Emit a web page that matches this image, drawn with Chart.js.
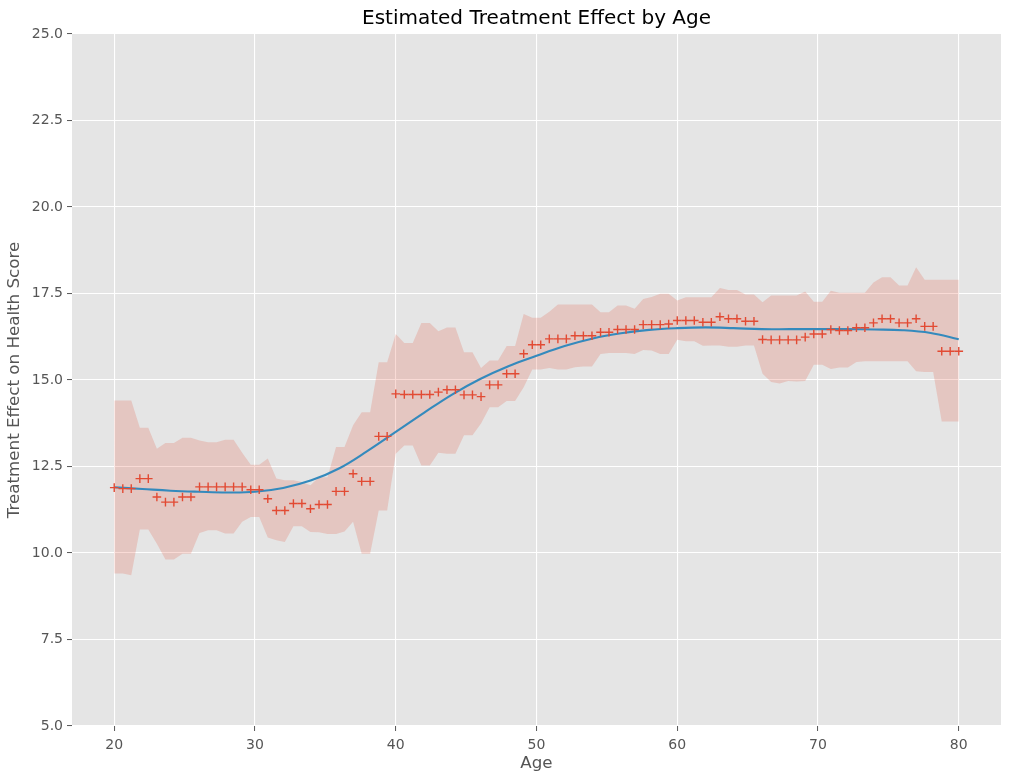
<!DOCTYPE html>
<html>
<head>
<meta charset="utf-8">
<script src="https://cdn.jsdelivr.net/npm/chart.js@4.4.1/dist/chart.umd.min.js"></script>
<style>
  html, body { margin: 0; padding: 0; background: #fff; }
  #wrap { width: 1011px; height: 780px; }
</style>
</head>
<body>
<div id="wrap"><canvas id="effectChart" width="1011" height="780"></canvas></div>
<script>
// Ages where the effect was evaluated
const ages = [
  20.00, 20.61, 21.21, 21.82, 22.42, 23.03, 23.64, 24.24, 24.85, 25.45,
  26.06, 26.67, 27.27, 27.88, 28.48, 29.09, 29.70, 30.30, 30.91, 31.52,
  32.12, 32.73, 33.33, 33.94, 34.55, 35.15, 35.76, 36.36, 36.97, 37.58,
  38.18, 38.79, 39.39, 40.00, 40.61, 41.21, 41.82, 42.42, 43.03, 43.64,
  44.24, 44.85, 45.45, 46.06, 46.67, 47.27, 47.88, 48.48, 49.09, 49.70,
  50.30, 50.91, 51.52, 52.12, 52.73, 53.33, 53.94, 54.55, 55.15, 55.76,
  56.36, 56.97, 57.58, 58.18, 58.79, 59.39, 60.00, 60.61, 61.21, 61.82,
  62.42, 63.03, 63.64, 64.24, 64.85, 65.45, 66.06, 66.67, 67.27, 67.88,
  68.48, 69.09, 69.70, 70.30, 70.91, 71.52, 72.12, 72.73, 73.33, 73.94,
  74.55, 75.15, 75.76, 76.36, 76.97, 77.58, 78.18, 78.79, 79.39, 80.00
];

// Point estimates (red crosses)
const effect = [
  11.89, 11.86, 11.86, 12.15, 12.15, 11.62, 11.47, 11.47, 11.62, 11.62,
  11.91, 11.91, 11.91, 11.91, 11.91, 11.91, 11.83, 11.83, 11.57, 11.23,
  11.23, 11.43, 11.43, 11.28, 11.40, 11.40, 11.78, 11.78, 12.29, 12.07,
  12.07, 13.37, 13.37, 14.60, 14.58, 14.58, 14.58, 14.58, 14.65, 14.72,
  14.72, 14.57, 14.57, 14.52, 14.86, 14.86, 15.18, 15.18, 15.76, 16.02,
  16.02, 16.19, 16.19, 16.19, 16.28, 16.28, 16.28, 16.38, 16.38, 16.46,
  16.46, 16.46, 16.60, 16.60, 16.60, 16.62, 16.72, 16.72, 16.72, 16.67,
  16.67, 16.83, 16.77, 16.77, 16.70, 16.70, 16.17, 16.16, 16.16, 16.16,
  16.16, 16.24, 16.33, 16.33, 16.46, 16.43, 16.43, 16.51, 16.51, 16.65,
  16.77, 16.77, 16.65, 16.65, 16.77, 16.55, 16.55, 15.83, 15.83, 15.83
];

// Confidence band
const upper = [
  14.41, 14.41, 14.41, 13.62, 13.62, 13.01, 13.18, 13.18, 13.33, 13.33,
  13.25, 13.20, 13.20, 13.27, 13.27, 12.90, 12.55, 12.55, 12.73, 12.15,
  12.10, 12.10, 12.05, 11.96, 12.19, 12.19, 13.06, 13.06, 13.69, 14.07,
  14.07, 15.51, 15.51, 16.33, 16.07, 16.07, 16.65, 16.65, 16.41, 16.52,
  16.52, 15.80, 15.80, 15.35, 15.56, 15.56, 15.98, 15.98, 16.91, 16.80,
  16.80, 16.97, 17.18, 17.18, 17.18, 17.18, 17.18, 16.96, 16.96, 17.15,
  17.15, 17.06, 17.34, 17.40, 17.49, 17.49, 17.30, 17.39, 17.39, 17.39,
  17.39, 17.66, 17.60, 17.60, 17.47, 17.47, 17.25, 17.44, 17.44, 17.44,
  17.44, 17.56, 17.26, 17.26, 17.58, 17.52, 17.52, 17.52, 17.52, 17.82,
  17.97, 17.97, 17.73, 17.73, 18.26, 17.90, 17.90, 17.90, 17.90, 17.90
];
const lower = [
   9.41,  9.41,  9.36, 10.68, 10.68, 10.27,  9.81,  9.81,  9.98,  9.98,
  10.58, 10.66, 10.66, 10.56, 10.56, 10.90, 11.04, 11.04, 10.45, 10.37,
  10.32, 10.77, 10.77, 10.61, 10.60, 10.55, 10.55, 10.62, 10.90,  9.98,
   9.98, 11.23, 11.23, 12.87, 13.11, 13.11, 12.53, 12.53, 12.90, 12.87,
  12.87, 13.40, 13.40, 13.74, 14.21, 14.21, 14.39, 14.39, 14.79, 15.30,
  15.30, 15.35, 15.30, 15.30, 15.37, 15.39, 15.39, 15.75, 15.78, 15.78,
  15.78, 15.75, 15.87, 15.85, 15.75, 15.75, 16.16, 16.12, 16.12, 15.99,
  16.00, 16.00, 15.96, 15.96, 16.00, 16.00, 15.18, 14.94, 14.90, 14.97,
  14.96, 14.97, 15.44, 15.44, 15.32, 15.36, 15.36, 15.52, 15.54, 15.54,
  15.54, 15.54, 15.54, 15.54, 15.25, 15.23, 15.23, 13.80, 13.80, 13.80
];

// Smoothed fit (blue line)
const fitAges = [20, 22, 24, 26, 28, 30, 32, 34, 36, 38, 40, 42, 44, 46, 48,
  50, 52, 54, 56, 58, 60, 62, 64, 66, 68, 70, 72, 74, 76, 78, 80];
const fitValues = [11.90, 11.85, 11.80, 11.77, 11.75, 11.77, 11.88, 12.10,
  12.45, 12.95, 13.50, 14.05, 14.58, 15.03, 15.40, 15.70, 15.98, 16.20, 16.35,
  16.45, 16.50, 16.52, 16.50, 16.47, 16.47, 16.47, 16.47, 16.46, 16.44, 16.36,
  16.18];

const xTicks = [20, 30, 40, 50, 60, 70, 80];
const yTicks = [5, 7.5, 10, 12.5, 15, 17.5, 20, 22.5, 25];

const toPoints = (xs, ys) => xs.map((x, i) => ({ x: x, y: ys[i] }));

// grey panel behind the plot, ggplot style
const panelBg = {
  id: 'panelBg',
  beforeDraw(chart) {
    const { ctx, chartArea: a } = chart;
    ctx.save();
    ctx.fillStyle = '#E5E5E5';
    ctx.fillRect(a.left, a.top, a.right - a.left, a.bottom - a.top);
    ctx.restore();
  }
};

const tickFont = { family: 'DejaVu Sans', size: 14 };
const labelFont = { family: 'DejaVu Sans', size: 16.7 };

new Chart(document.getElementById('effectChart').getContext('2d'), {
  type: 'scatter',
  data: {
    datasets: [
      {
        label: 'Estimate',
        data: toPoints(ages, effect),
        pointStyle: 'cross',
        pointRadius: 4.3,
        pointBorderWidth: 1.4,
        pointBorderColor: '#E24A33',
        pointBackgroundColor: '#E24A33',
        showLine: false
      },
      {
        label: 'Fit',
        data: toPoints(fitAges, fitValues),
        showLine: true,
        borderColor: '#348ABD',
        borderWidth: 2.1,
        pointRadius: 0,
        tension: 0.4,
        fill: false
      },
      {
        label: 'Upper',
        data: toPoints(ages, upper),
        showLine: true,
        borderWidth: 0,
        borderColor: 'rgba(0,0,0,0)',
        pointRadius: 0,
        backgroundColor: 'rgba(226, 74, 51, 0.2)',
        fill: '+1'
      },
      {
        label: 'Lower',
        data: toPoints(ages, lower),
        showLine: true,
        borderWidth: 0,
        borderColor: 'rgba(0,0,0,0)',
        pointRadius: 0,
        fill: false
      }
    ]
  },
  options: {
    responsive: false,
    animation: false,
    layout: { padding: { left: 0, right: 10, top: 0, bottom: 0 } },
    plugins: {
      legend: { display: false },
      tooltip: { enabled: false },
      title: {
        display: true,
        fullSize: false,
        text: 'Estimated Treatment Effect by Age',
        color: '#000',
        font: { family: 'DejaVu Sans', size: 20, weight: 'normal' },
        padding: { top: 7, bottom: 3 }
      }
    },
    scales: {
      x: {
        type: 'linear',
        min: 17,
        max: 83,
        afterBuildTicks: (scale) => { scale.ticks = xTicks.map(v => ({ value: v })); },
        afterFit: (scale) => { scale.height = 54; },
        ticks: { color: '#555555', font: tickFont, padding: 6 },
        grid: { color: '#FFFFFF', lineWidth: 1.1, tickColor: '#555555', tickLength: 5, tickWidth: 1 },
        border: { display: false },
        title: { display: true, text: 'Age', color: '#555555', font: labelFont, padding: { top: 0, bottom: 6 } }
      },
      y: {
        min: 5,
        max: 25,
        afterBuildTicks: (scale) => { scale.ticks = yTicks.map(v => ({ value: v })); },
        afterFit: (scale) => { scale.width = 72; },
        ticks: { color: '#555555', font: tickFont, padding: 4, callback: (v) => v.toFixed(1) },
        grid: { color: '#FFFFFF', lineWidth: 1.1, tickColor: '#555555', tickLength: 5, tickWidth: 1 },
        border: { display: false },
        title: { display: true, text: 'Treatment Effect on Health Score', color: '#555555', font: labelFont, padding: { top: 5, bottom: 0 } }
      }
    }
  },
  plugins: [panelBg]
});
</script>
</body>
</html>
